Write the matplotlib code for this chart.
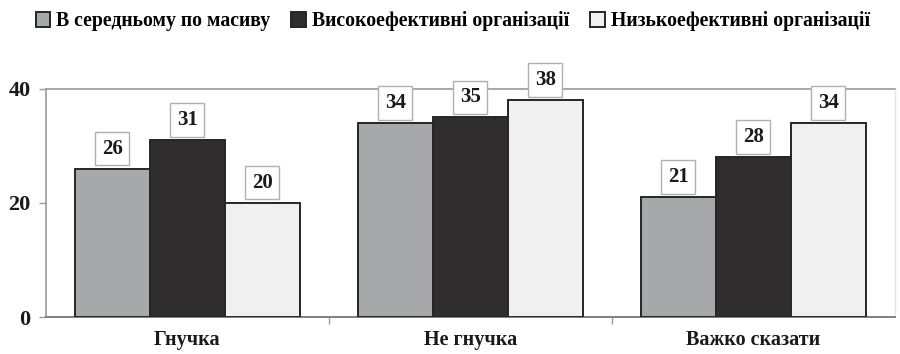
import matplotlib
matplotlib.use("Agg")
import matplotlib.pyplot as plt
import numpy as np
from matplotlib.patches import Patch

categories = ["Гнучка", "Не гнучка", "Важко сказати"]
series_names = ["В середньому по масиву", "Високоефективні організації", "Низькоефективні організації"]
average = [26, 34, 21]
high_perf = [31, 35, 28]
low_perf = [20, 38, 34]
y_ticks = [0, 20, 40]

series_values = [average, high_perf, low_perf]
colors = ["#a6a8aa", "#2f2d2e", "#f0f0f0"]
edge = "#262626"

plt.rcParams["font.family"] = ["Liberation Serif", "DejaVu Serif"]
plt.rcParams["font.weight"] = "bold"

fig = plt.figure(figsize=(9.0, 3.54), dpi=100)
ax = fig.add_axes([0.051, 0.1045, 0.943, 0.6445])

x = np.arange(len(categories))
width = 0.265
offsets = [-width, 0.0, width]

for vals, col, off in zip(series_values, colors, offsets):
    bars = ax.bar(x + off, vals, width=width, color=col, edgecolor=edge, linewidth=1.4, zorder=3)
    for b, v in zip(bars, vals):
        ax.annotate(str(v), (b.get_x() + b.get_width() / 2, b.get_height()),
                    xytext=(0, 14.5), textcoords="offset points",
                    ha="center", va="center", fontsize=15, fontweight="bold",
                    color="#1a1a1a", zorder=5,
                    bbox=dict(boxstyle="square,pad=0.32", fc="white", ec="#b0b0b0", lw=1.0))

ax.set_xlim(-0.5, 2.5)
ax.set_ylim(0, 40)
ax.set_yticks(y_ticks)
ax.set_yticklabels([str(t) for t in y_ticks], fontsize=16, fontweight="bold", color="#1a1a1a")
ax.set_xticks(x)
ax.set_xticklabels(categories, fontsize=14.5, fontweight="bold", color="#1a1a1a")
ax.tick_params(axis="x", which="major", length=0, pad=9)
ax.set_xticks([0.5, 1.5], minor=True)
ax.tick_params(axis="x", which="minor", length=5, color="#999999", width=1)
ax.tick_params(axis="y", length=5, color="#999999", width=1, pad=6)

for side in ["left", "top"]:
    ax.spines[side].set_color("#9a9a9a")
    ax.spines[side].set_linewidth(1.2)
ax.spines["bottom"].set_color("#808080")
ax.spines["bottom"].set_linewidth(1.4)
ax.spines["right"].set_color("#e6e6e6")
ax.spines["right"].set_linewidth(1.0)

handles = [Patch(facecolor=c, edgecolor=edge, linewidth=1.4) for c in colors]
fig.legend(handles, series_names, loc="center", bbox_to_anchor=(0.503, 0.94), ncol=3,
           frameon=False, fontsize=14.2, handlelength=0.75, handleheight=0.75,
           handletextpad=0.3, columnspacing=1.05, borderaxespad=0)

fig.savefig("out.png", dpi=100)
